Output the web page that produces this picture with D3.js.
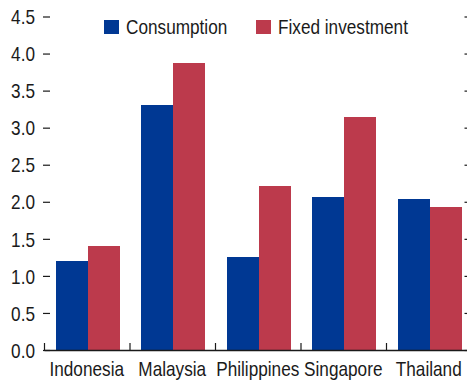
<!DOCTYPE html>
<html>
<head>
<meta charset="utf-8">
<script src="https://cdn.jsdelivr.net/npm/d3@7"></script>
<style>
  html, body { margin: 0; padding: 0; background: #fff; }
  svg { display: block; }
  text { font-family: "Liberation Sans Narrow", "Arial Narrow", "Liberation Sans", sans-serif; fill: #1a1a1a; }
</style>
</head>
<body>
<svg id="chart" width="467" height="383"></svg>
<script>
// Contributions to growth by country
const categories = ["Indonesia", "Malaysia", "Philippines", "Singapore", "Thailand"];
const seriesNames = ["Consumption", "Fixed investment"];
const consumption = [1.20, 3.31, 1.25, 2.06, 2.04];
const fixedInvestment = [1.41, 3.87, 2.21, 3.15, 1.93];
const yTicks = [0.0, 0.5, 1.0, 1.5, 2.0, 2.5, 3.0, 3.5, 4.0, 4.5];
const colors = ["#003893", "#BC3A4C"];

const svg = d3.select("#chart");
const fontSize = 20;
const condense = 0.86; // horizontal squeeze for a condensed look

// Squeeze each text horizontally about its own anchor point
function condenseText(sel) {
  sel.each(function () {
    const ax = +(this.getAttribute("x") || 0);
    d3.select(this).attr("transform", `translate(${ax * (1 - condense)},0) scale(${condense},1)`);
  });
}

const x = d3.scaleBand().domain(categories).range([44, 471.5]).paddingInner(0).paddingOuter(0);
const sub = d3.scaleBand().domain(seriesNames).range([11.5, 75.5]).padding(0);
const y = d3.scaleLinear().domain([0, 4.5]).range([350, 16.5]);

const rows = categories.map((c, i) => ({ cat: c, vals: [consumption[i], fixedInvestment[i]] }));

// Bars
const groups = svg.append("g").selectAll("g").data(rows).join("g")
  .attr("transform", d => `translate(${x(d.cat)},0)`);
groups.selectAll("rect")
  .data(d => d.vals.map((v, k) => ({ name: seriesNames[k], v, k })))
  .join("rect")
  .attr("x", d => sub(d.name))
  .attr("width", sub.bandwidth())
  .attr("y", d => y(d.v))
  .attr("height", d => y(0) - y(d.v))
  .attr("fill", d => colors[d.k])
  .attr("shape-rendering", "crispEdges");

// Left value axis (ticks and labels, no spine)
const yAxis = svg.append("g").attr("transform", "translate(50,0)")
  .call(d3.axisLeft(y).tickValues(yTicks).tickFormat(d3.format(".1f")).tickSize(7).tickPadding(8));
yAxis.select(".domain").remove();
yAxis.selectAll("line").attr("stroke", "#1a1a1a").attr("stroke-width", 1.2);
yAxis.selectAll("text").attr("font-size", fontSize).attr("font-family", null).attr("fill", "#1a1a1a").attr("dy", "0.36em")
  .call(condenseText);

// Right value axis (inward ticks)
const yAxisR = svg.append("g").attr("transform", "translate(464.5,0)")
  .call(d3.axisRight(y).tickValues(yTicks).tickFormat("").tickSize(7));
yAxisR.select(".domain").remove();
yAxisR.selectAll("line").attr("stroke", "#1a1a1a").attr("stroke-width", 1.2);

// Category axis: baseline with separator ticks between countries
const bounds = categories.map(c => x(c)).concat([x(categories[categories.length - 1]) + x.bandwidth()]);
const sepScale = d3.scaleLinear().domain([0, bounds.length - 1]).range([bounds[0], bounds[bounds.length - 1]]);
const sepAxis = svg.append("g").attr("transform", `translate(0,${y(0)})`)
  .call(d3.axisBottom(sepScale).tickValues(d3.range(bounds.length)).tickFormat("").tickSize(-7).tickSizeOuter(0));
sepAxis.select(".domain").attr("stroke", "#1a1a1a").attr("stroke-width", 1.5);
sepAxis.selectAll("line").attr("stroke", "#1a1a1a").attr("stroke-width", 1.2);

const xAxis = svg.append("g").attr("transform", `translate(0,${y(0)})`)
  .call(d3.axisBottom(x).tickSize(0).tickPadding(12));
xAxis.select(".domain").remove();
xAxis.selectAll("text").attr("font-size", fontSize).attr("font-family", null).attr("fill", "#1a1a1a").attr("dy", "0.71em")
  .call(condenseText);

// Legend
const legendItems = [
  { name: seriesNames[0], color: colors[0], x: 104 },
  { name: seriesNames[1], color: colors[1], x: 256 }
];
const legend = svg.append("g").selectAll("g").data(legendItems).join("g")
  .attr("transform", d => `translate(${d.x},20)`);
legend.append("rect").attr("width", 15).attr("height", 14).attr("fill", d => d.color);
legend.append("text").attr("x", 22).attr("y", 7).attr("dy", "0.36em")
  .attr("font-size", fontSize).text(d => d.name)
  .call(condenseText);
</script>
</body>
</html>
